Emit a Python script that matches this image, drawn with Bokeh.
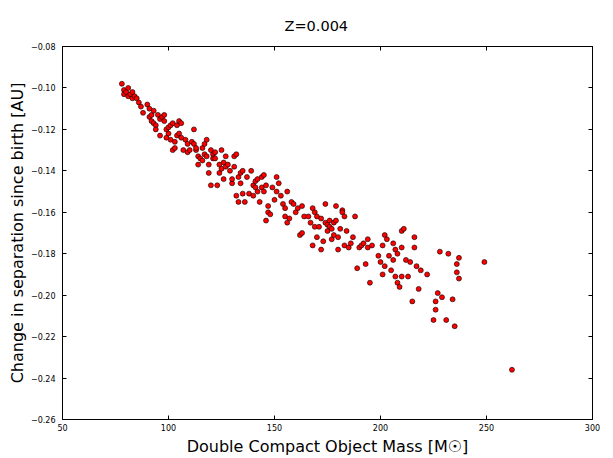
from bokeh.plotting import figure
from bokeh.models import LinearAxis, CustomJSTickFormatter, FixedTicker, ColumnDataSource
from bokeh.embed import file_html
from bokeh.resources import INLINE

title_text = "Z=0.004"
x_label = "Double Compact Object Mass [M\u2609]"
y_label = "Change in separation since birth [AU]"
x_ticks = [50, 100, 150, 200, 250, 300]
y_ticks = [-0.26, -0.24, -0.22, -0.20, -0.18, -0.16, -0.14, -0.12, -0.10, -0.08]

mass = [78, 79, 79, 80, 81, 81, 82, 83, 83, 84, 85, 86, 87, 88, 90, 91, 91, 92, 92, 93,
        93, 94, 94, 95, 96, 96, 97, 98, 98, 99, 99, 100, 100, 101, 101, 102, 102, 103, 103, 104,
        104, 105, 105, 106, 106, 107, 108, 109, 109, 110, 111, 112, 112, 113, 113, 114, 114, 115, 116, 116,
        117, 117, 118, 118, 119, 119, 120, 120, 121, 121, 122, 122, 123, 124, 124, 125, 125, 126, 126, 127,
        127, 128, 129, 130, 130, 131, 131, 132, 132, 133, 133, 134, 134, 135, 135, 136, 137, 138, 139, 140,
        140, 141, 141, 142, 142, 143, 144, 144, 145, 145, 146, 146, 147, 147, 148, 149, 150, 151, 151, 152,
        153, 154, 155, 155, 156, 156, 157, 158, 159, 160, 161, 162, 163, 163, 164, 166, 167, 168, 168, 169,
        169, 170, 170, 171, 172, 172, 173, 174, 174, 175, 175, 176, 176, 177, 177, 178, 178, 179, 179, 180,
        180, 181, 182, 182, 183, 183, 184, 185, 186, 187, 188, 189, 190, 191, 192, 193, 194, 194, 195, 196,
        199, 200, 201, 201, 202, 202, 203, 204, 205, 206, 206, 207, 207, 208, 208, 209, 210, 210, 210, 211,
        212, 213, 214, 215, 216, 216, 217, 218, 219, 222, 225, 226, 226, 227, 228, 229, 231, 232, 234, 235,
        236, 236, 237, 237, 249, 262]
delta_sep = [-0.098, -0.101, -0.103, -0.102, -0.100, -0.104, -0.103, -0.102, -0.105, -0.104,
             -0.105, -0.107, -0.109, -0.112, -0.108, -0.110, -0.114, -0.113, -0.116, -0.111,
             -0.117, -0.118, -0.120, -0.113, -0.115, -0.123, -0.114, -0.113, -0.116, -0.120,
             -0.124, -0.119, -0.122, -0.118, -0.125, -0.117, -0.130, -0.126, -0.129, -0.118,
             -0.123, -0.116, -0.122, -0.117, -0.124, -0.130, -0.125, -0.127, -0.131, -0.130,
             -0.126, -0.120, -0.127, -0.130, -0.129, -0.133, -0.137, -0.134, -0.129, -0.135,
             -0.127, -0.132, -0.125, -0.133, -0.137, -0.141, -0.130, -0.147, -0.132, -0.134,
             -0.134, -0.131, -0.147, -0.137, -0.141, -0.130, -0.139, -0.136, -0.144, -0.133,
             -0.138, -0.137, -0.140, -0.146, -0.144, -0.138, -0.133, -0.132, -0.152, -0.143,
             -0.155, -0.141, -0.146, -0.140, -0.151, -0.155, -0.143, -0.151, -0.140, -0.147,
             -0.152, -0.145, -0.148, -0.144, -0.150, -0.155, -0.148, -0.143, -0.142, -0.150,
             -0.147, -0.164, -0.157, -0.160, -0.161, -0.148, -0.154, -0.143, -0.150, -0.146,
             -0.152, -0.156, -0.158, -0.162, -0.150, -0.165, -0.163, -0.155, -0.156, -0.160,
             -0.158, -0.171, -0.157, -0.170, -0.162, -0.162, -0.165, -0.158, -0.176, -0.160,
             -0.167, -0.162, -0.172, -0.167, -0.163, -0.178, -0.174, -0.156, -0.165, -0.166,
             -0.169, -0.164, -0.167, -0.168, -0.173, -0.165, -0.171, -0.157, -0.164, -0.178,
             -0.172, -0.168, -0.159, -0.160, -0.162, -0.176, -0.169, -0.177, -0.175, -0.172,
             -0.162, -0.187, -0.177, -0.176, -0.175, -0.185, -0.173, -0.177, -0.194, -0.176,
             -0.181, -0.184, -0.176, -0.190, -0.171, -0.186, -0.173, -0.181, -0.188, -0.175,
             -0.183, -0.178, -0.191, -0.180, -0.194, -0.196, -0.177, -0.169, -0.191, -0.168,
             -0.183, -0.191, -0.184, -0.203, -0.172, -0.177, -0.186, -0.197, -0.188, -0.190,
             -0.212, -0.207, -0.203, -0.199, -0.179, -0.201, -0.212, -0.180, -0.202, -0.215,
             -0.189, -0.185, -0.182, -0.192, -0.184, -0.236]

FONT = "DejaVu Sans"
src = ColumnDataSource(data=dict(x=mass, y=delta_sep))

p = figure(width=613, height=458, x_range=(50, 300), y_range=(-0.26, -0.08),
           output_backend="svg", toolbar_location=None,
           min_border_left=62, min_border_right=21, min_border_top=46, min_border_bottom=36)
p.title.text = title_text
p.title.align = "left"
p.title.text_font = FONT
p.title.text_font_size = "14.5px"
p.title.text_font_style = "normal"
p.title.text_color = "black"
p.title.offset = 222
p.title.standoff = 26

p.xgrid.visible = False
p.ygrid.visible = False
p.outline_line_color = "black"
p.outline_line_width = 1
p.background_fill_color = "white"
p.border_fill_color = "white"

fmt = CustomJSTickFormatter(code="var s = tick.toFixed(2); return s.replace('-', '\u2212');")
blank = CustomJSTickFormatter(code="return '';")

for ax in p.xaxis:
    ax.ticker = FixedTicker(ticks=x_ticks)
for ax in p.yaxis:
    ax.ticker = FixedTicker(ticks=y_ticks)
    ax.formatter = fmt

def style(ax):
    ax.axis_line_color = "black"
    ax.major_tick_in = 4
    ax.major_tick_out = 0
    ax.minor_tick_in = 0
    ax.minor_tick_out = 0
    ax.major_tick_line_color = "black"
    ax.major_label_text_font = FONT
    ax.major_label_text_font_size = "8px"
    ax.major_label_text_color = "black"
    ax.axis_label_text_font = FONT
    ax.axis_label_text_font_size = "16px"
    ax.axis_label_text_font_style = "normal"
    ax.axis_label_text_color = "black"

p.xaxis.axis_label = x_label
p.yaxis.axis_label = y_label
style(p.xaxis[0])
style(p.yaxis[0])
p.xaxis[0].major_label_standoff = 4
p.xaxis[0].axis_label_standoff = 3
p.yaxis[0].major_label_standoff = 7
p.yaxis[0].axis_label_standoff = 1

top = LinearAxis(ticker=FixedTicker(ticks=x_ticks), formatter=blank)
right = LinearAxis(ticker=FixedTicker(ticks=y_ticks), formatter=blank)
style(top)
style(right)
top.major_label_standoff = 0
right.major_label_standoff = 0
p.add_layout(top, "above")
p.add_layout(right, "right")

p.scatter("x", "y", source=src, size=5, fill_color="red", line_color="black", line_width=0.6)

open("out.html", "w").write(file_html(p, INLINE))
